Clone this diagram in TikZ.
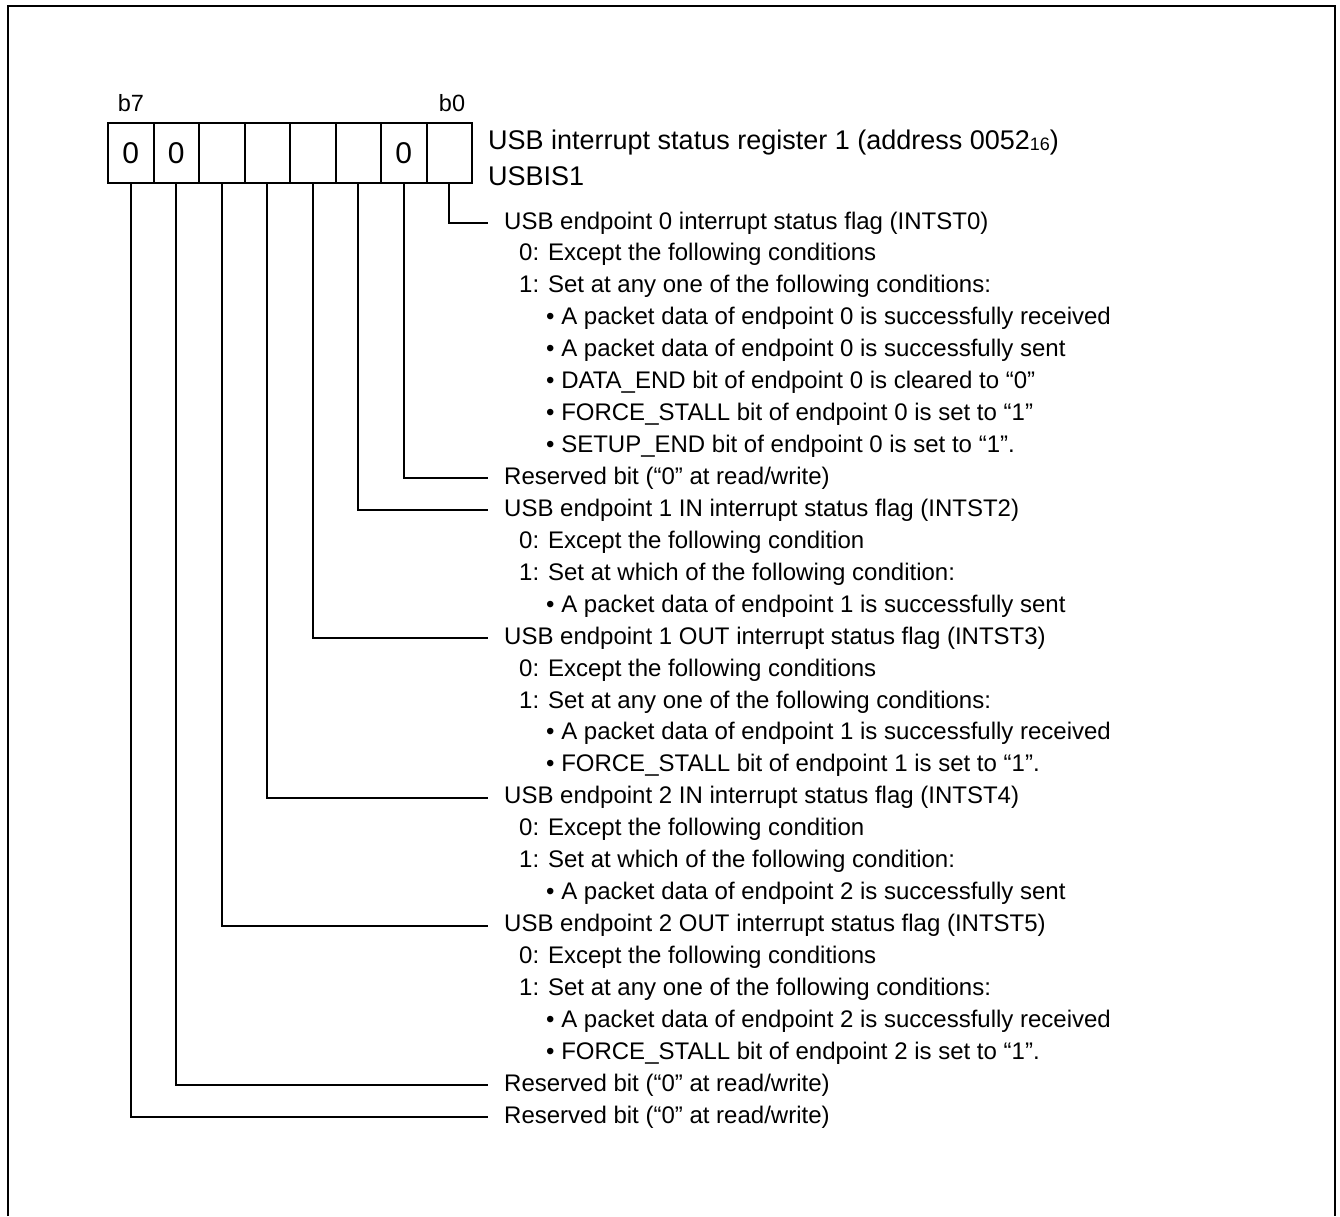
\documentclass[tikz,border=0pt]{standalone}
\usepackage{fontspec}
\setmainfont{Liberation Sans}
\begin{document}
\begin{tikzpicture}[x=1pt,y=-1pt,
  cell/.style={draw,line width=2pt,minimum width=45.5pt,minimum height=60pt,inner sep=0pt,font=\fontsize{30}{30}\selectfont},
  lbl/.style={anchor=west,inner sep=0pt,inner xsep=16pt,font=\fontsize{24}{24}\selectfont,text height=17pt,text depth=5pt},
  sub/.style={anchor=west,inner sep=0pt,font=\fontsize{24}{24}\selectfont,text height=17pt,text depth=5pt},
  bitlbl/.style={inner sep=0pt,font=\fontsize{23.5}{23.5}\selectfont},
  conn/.style={line width=2pt},
  frame/.style={line width=2.2pt}]
\useasboundingbox (0,0) rectangle (1340,1216);
\draw[frame] (8,1216) -- (8,6) -- (1335,6) -- (1335,1216);

% register cells
\node[cell] (c7) at (130.75,153) {0};
\node[cell] (c6) at (176.25,153) {0};
\node[cell] (c5) at (221.75,153) {};
\node[cell] (c4) at (267.25,153) {};
\node[cell] (c3) at (312.75,153) {};
\node[cell] (c2) at (358.25,153) {};
\node[cell] (c1) at (403.75,153) {0};
\node[cell] (c0) at (449.25,153) {};
\node[bitlbl] (b7) at (131,103) {b7};
\node[bitlbl] (b0) at (452,103) {b0};

% title
\node[anchor=west,inner sep=0pt,font=\fontsize{27}{27}\selectfont] (title) at (488,143)
  {USB interrupt status register 1 (address 0052\raisebox{-1pt}{\fontsize{18}{18}\selectfont 16})};
\node[anchor=west,inner sep=0pt,font=\fontsize{27}{27}\selectfont] (title2) at (488,176) {USBIS1};

% bit 0
\node[lbl] (r0) at (488,223) {USB endpoint 0 interrupt status flag (INTST0)};
\node[sub] (r1) at (519,254.9) {0: Except the following conditions};
\node[sub] (r2) at (519,286.9) {1: Set at any one of the following conditions:};
\node[sub] (r3) at (546,318.8) {• A packet data of endpoint 0 is successfully received};
\node[sub] (r4) at (546,350.7) {• A packet data of endpoint 0 is successfully sent};
\node[sub] (r5) at (546,382.7) {• DATA\_END bit of endpoint 0 is cleared to “0”};
\node[sub] (r6) at (546,414.6) {• FORCE\_STALL bit of endpoint 0 is set to “1”};
\node[sub] (r7) at (546,446.5) {• SETUP\_END bit of endpoint 0 is set to “1”.};
% bit 1
\node[lbl] (r8) at (488,478.4) {Reserved bit (“0” at read/write)};
% bit 2
\node[lbl] (r9) at (488,510.4) {USB endpoint 1 IN interrupt status flag (INTST2)};
\node[sub] (r10) at (519,542.3) {0: Except the following condition};
\node[sub] (r11) at (519,574.2) {1: Set at which of the following condition:};
\node[sub] (r12) at (546,606.2) {• A packet data of endpoint 1 is successfully sent};
% bit 3
\node[lbl] (r13) at (488,638.1) {USB endpoint 1 OUT interrupt status flag (INTST3)};
\node[sub] (r14) at (519,670.0) {0: Except the following conditions};
\node[sub] (r15) at (519,702.0) {1: Set at any one of the following conditions:};
\node[sub] (r16) at (546,733.9) {• A packet data of endpoint 1 is successfully received};
\node[sub] (r17) at (546,765.8) {• FORCE\_STALL bit of endpoint 1 is set to “1”.};
% bit 4
\node[lbl] (r18) at (488,797.7) {USB endpoint 2 IN interrupt status flag (INTST4)};
\node[sub] (r19) at (519,829.7) {0: Except the following condition};
\node[sub] (r20) at (519,861.6) {1: Set at which of the following condition:};
\node[sub] (r21) at (546,893.5) {• A packet data of endpoint 2 is successfully sent};
% bit 5
\node[lbl] (r22) at (488,925.5) {USB endpoint 2 OUT interrupt status flag (INTST5)};
\node[sub] (r23) at (519,957.4) {0: Except the following conditions};
\node[sub] (r24) at (519,989.3) {1: Set at any one of the following conditions:};
\node[sub] (r25) at (546,1021.3) {• A packet data of endpoint 2 is successfully received};
\node[sub] (r26) at (546,1053.2) {• FORCE\_STALL bit of endpoint 2 is set to “1”.};
% bit 6, 7
\node[lbl] (r27) at (488,1085.1) {Reserved bit (“0” at read/write)};
\node[lbl] (r28) at (488,1117.0) {Reserved bit (“0” at read/write)};

% connectors
\draw[conn] (c0.south) |- (r0.west);
\draw[conn] (c1.south) |- (r8.west);
\draw[conn] (c2.south) |- (r9.west);
\draw[conn] (c3.south) |- (r13.west);
\draw[conn] (c4.south) |- (r18.west);
\draw[conn] (c5.south) |- (r22.west);
\draw[conn] (c6.south) |- (r27.west);
\draw[conn] (c7.south) |- (r28.west);
\end{tikzpicture}
\end{document}
